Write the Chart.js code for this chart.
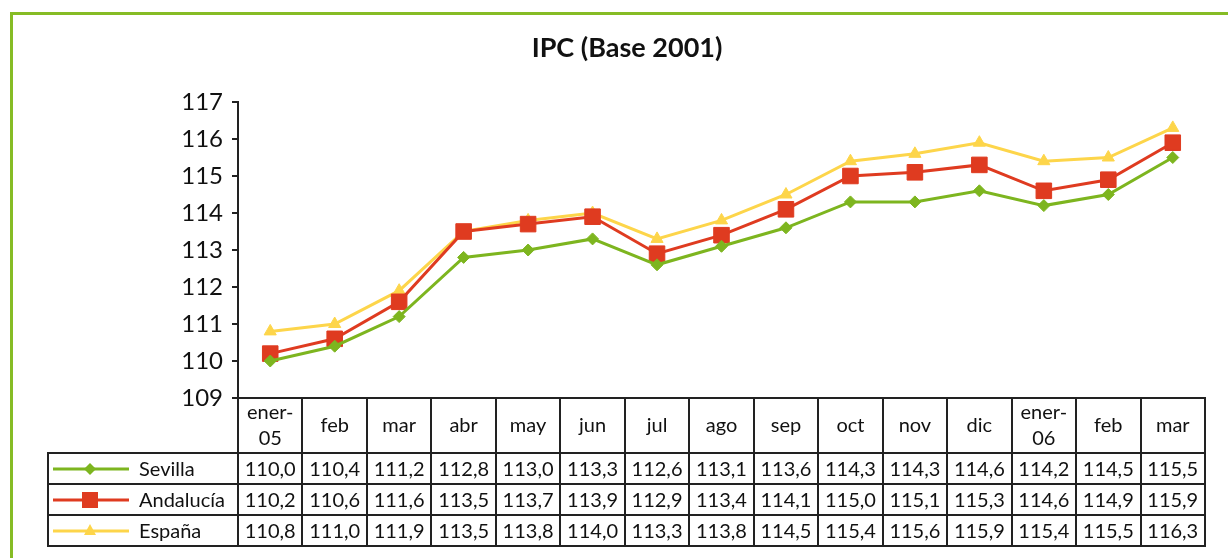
<!DOCTYPE html>
<html lang="es">
<head>
<meta charset="utf-8">
<title>IPC (Base 2001)</title>
<script src="https://cdn.jsdelivr.net/npm/chart.js@4/dist/chart.umd.min.js"></script>
<style>
  html, body { margin: 0; padding: 0; background: #fff; overflow: hidden; }
  #wrap { position: relative; width: 1228px; height: 558px; }
  #marco { position: absolute; left: 10px; top: 12px; right: -20px; bottom: -20px;
           border-left: 3px solid #86BC25; border-top: 3px solid #86BC25; }
  #grafico { position: absolute; left: 0; top: 0; }
  .celda { position: absolute; box-sizing: border-box; border-left: 2px solid #222; border-top: 2px solid #222;
           font-family: Lato, sans-serif; font-size: 20px; color: #111; text-align: center; white-space: nowrap; }
  .leyenda { text-align: left; }
  .leyenda svg { position: absolute; left: 3px; top: 4px; }
  .leyenda span { position: absolute; left: 90px; }
</style>
</head>
<body>
<div id="wrap">
  <div id="marco"></div>
  <canvas id="grafico" width="1228" height="558"></canvas>
  <div id="tabla"></div>
</div>
<script>
const FUENTE = 'Lato, sans-serif';
const COLORES = { sevilla: '#7DB51F', andalucia: '#DF3B20', espana: '#FDD54A', linea: '#222', texto: '#111' };

const meses = [['ener-', '05'], 'feb', 'mar', 'abr', 'may', 'jun', 'jul', 'ago', 'sep', 'oct', 'nov', 'dic', ['ener-', '06'], 'feb', 'mar'];
const sevilla   = [110.0, 110.4, 111.2, 112.8, 113.0, 113.3, 112.6, 113.1, 113.6, 114.3, 114.3, 114.6, 114.2, 114.5, 115.5];
const andalucia = [110.2, 110.6, 111.6, 113.5, 113.7, 113.9, 112.9, 113.4, 114.1, 115.0, 115.1, 115.3, 114.6, 114.9, 115.9];
const espana    = [110.8, 111.0, 111.9, 113.5, 113.8, 114.0, 113.3, 113.8, 114.5, 115.4, 115.6, 115.9, 115.4, 115.5, 116.3];
const series = ['Sevilla', 'Andalucía', 'España'];

const chart = new Chart(document.getElementById('grafico'), {
  type: 'line',
  data: {
    labels: meses,
    datasets: [
      { label: series[0], data: sevilla, borderColor: COLORES.sevilla, backgroundColor: COLORES.sevilla,
        borderWidth: 3, pointStyle: 'rectRot', pointRadius: 6, pointBorderWidth: 1, tension: 0 },
      { label: series[1], data: andalucia, borderColor: COLORES.andalucia, backgroundColor: COLORES.andalucia,
        borderWidth: 3, pointStyle: 'rect', pointRadius: 11, pointBorderWidth: 1, tension: 0 },
      { label: series[2], data: espana, borderColor: COLORES.espana, backgroundColor: COLORES.espana,
        borderWidth: 3, pointStyle: 'triangle', pointRadius: 7, pointBorderWidth: 1, tension: 0 }
    ]
  },
  options: {
    responsive: false,
    animation: false,
    layout: { padding: { left: 49, right: 23, top: 0, bottom: 105 } },
    plugins: {
      legend: { display: false },
      tooltip: { enabled: false },
      title: { display: true, text: 'IPC (Base 2001)', color: COLORES.texto,
               font: { family: FUENTE, size: 27, weight: 'bold', lineHeight: 1.2 },
               padding: { top: 32, bottom: 37.6 } }
    },
    scales: {
      x: {
        offset: true,
        grid: { offset: true, drawOnChartArea: false, drawTicks: true, tickLength: 55, color: COLORES.linea, lineWidth: 2 },
        border: { display: true, color: COLORES.linea, width: 2 },
        ticks: { padding: -40, color: COLORES.texto, font: { family: FUENTE, size: 20, lineHeight: 1.3 },
                 crossAlign: 'center', maxRotation: 0, minRotation: 0, autoSkip: false },
        afterFit: s => { s.height = 55; }
      },
      y: {
        min: 109, max: 117,
        grid: { drawOnChartArea: false, tickLength: 6, color: COLORES.linea, lineWidth: 2 },
        border: { display: true, color: COLORES.linea, width: 2 },
        ticks: { stepSize: 1, padding: 9, color: COLORES.texto, font: { family: FUENTE, size: 24 } },
        afterFit: s => { s.width = 189; }
      }
    }
  }
});

// Tabla de datos bajo el eje X
function marcador(ds) {
  const c = ds.borderColor;
  let m = '';
  if (ds.pointStyle === 'rectRot') m = `<polygon points="38,5 44,11 38,17 32,11" fill="${c}"/>`;
  else if (ds.pointStyle === 'rect') m = `<rect x="30" y="3" width="16" height="16" fill="${c}"/>`;
  else m = `<polygon points="38,4 44,15 32,15" fill="${c}"/>`;
  return `<svg width="80" height="22"><line x1="1" y1="11" x2="77" y2="11" stroke="${c}" stroke-width="3"/>${m}</svg>`;
}

function dibujarTabla() {
  const sx = chart.scales.x;
  const n = meses.length;
  const colW = (sx.right - sx.left) / n;
  const top0 = sx.bottom;
  const rowH = 31;
  const izq = 48;
  let html = '';
  chart.data.datasets.forEach((ds, r) => {
    const y = top0 + r * rowH - 1;
    const ultimaFila = r === chart.data.datasets.length - 1;
    const bb = ultimaFila ? 'border-bottom:2px solid #222;' : '';
    const h = rowH + (ultimaFila ? 2 : 0);
    html += `<div class="celda leyenda" style="left:${izq - 1}px;top:${y}px;width:${sx.left - izq}px;height:${h}px;line-height:${rowH - 2}px;${bb}">${marcador(ds)}<span>${ds.label}</span></div>`;
    ds.data.forEach((v, i) => {
      const x = sx.left + i * colW - 1;
      const ultimaCol = i === n - 1;
      const br = ultimaCol ? 'border-right:2px solid #222;' : '';
      const w = colW + (ultimaCol ? 2 : 0);
      html += `<div class="celda" style="left:${x}px;top:${y}px;width:${w}px;height:${h}px;line-height:${rowH - 2}px;${br}${bb}">${v.toFixed(1).replace('.', ',')}</div>`;
    });
  });
  document.getElementById('tabla').innerHTML = html;
}
dibujarTabla();
</script>
</body>
</html>
